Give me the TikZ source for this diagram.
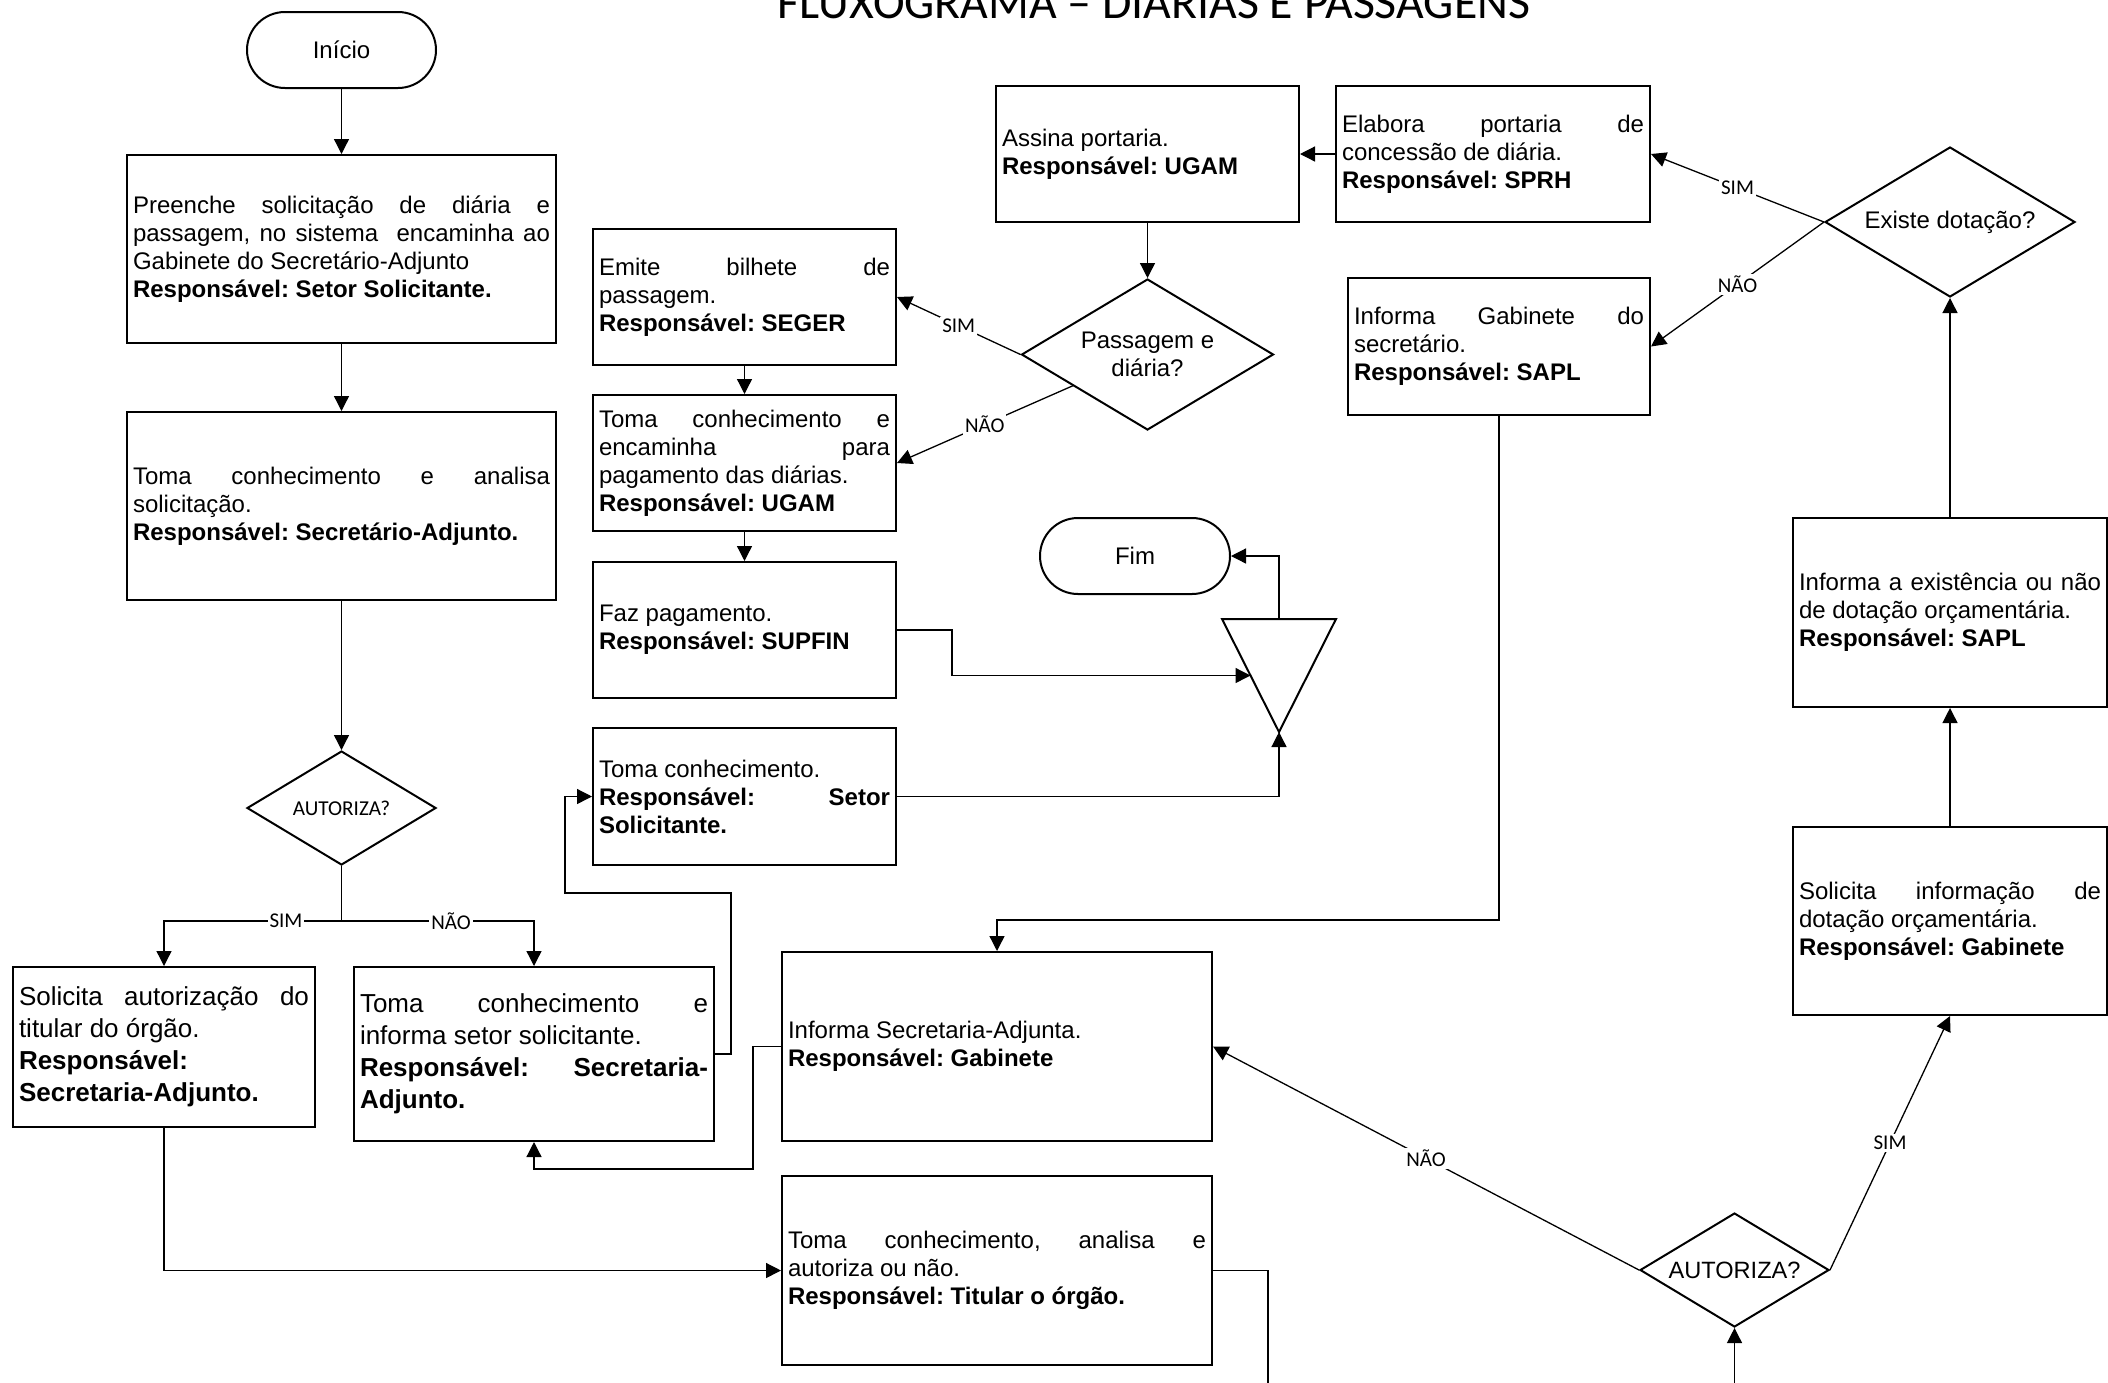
\documentclass[tikz,border=0pt]{standalone}
\usepackage{fontspec}
\setmainfont{Liberation Sans}
\newfontfamily\calib{Carlito}
\usetikzlibrary{arrows.meta,shapes.geometric,calc}
\setlength{\parindent}{0pt}
\frenchspacing
\tolerance=10000
\hbadness=10000
\tikzset{
  box/.style={draw, line width=1pt, inner sep=0pt, align=justify,
    font=\fontsize{12}{14}\selectfont\frenchspacing},
  boxb/.style={draw, line width=1pt, inner sep=0pt, align=justify,
    font=\fontsize{13}{16}\selectfont\frenchspacing},
  term/.style={draw, line width=1pt, rounded corners=19pt, inner sep=0pt,
    minimum height=38pt, font=\fontsize{12}{14}\selectfont},
  dec/.style={draw, diamond, line width=1pt, inner sep=0pt, align=center},
  ln/.style={line width=0.65pt},
  arr/.style={line width=0.65pt, -{Triangle[length=7.5pt,width=7.5pt]}},
  lbl/.style={fill=white, inner sep=1pt, font=\calib\fontsize{10.5}{12}\selectfont},
}
\begin{document}
\begin{tikzpicture}[x=0.5pt,y=-0.5pt]
\useasboundingbox (0,0) rectangle (2108,1382);
\fill[white] (0,0) rectangle (2108,1382);
\clip (0,0) rectangle (2108,1382);

% title
\node[font=\calib\fontsize{23.9}{28}\selectfont, anchor=base, inner sep=0pt] (title) at (1154,18.5) {FLUXOGRAMA – DIÁRIAS E PASSAGENS};

% terminals
\node[term, minimum width=94.5pt] (start) at (341.5,50) {Início};
\node[term, minimum width=95pt] (fim) at (1135,556) {Fim};

% left column
\node[box, minimum width=214.5pt, minimum height=94pt, text width=208.5pt] (b1) at (341.5,249)
 {Preenche solicitação de diária e\linebreak passagem, no sistema \ encaminha ao\linebreak Gabinete do Secretário-Adjunto\par\textbf{Responsável: Setor Solicitante.}};
\node[box, minimum width=214.5pt, minimum height=94pt, text width=208.5pt] (b2) at (341.5,506)
 {Toma conhecimento e analisa\linebreak solicitação.\par\textbf{Responsável: Secretário-Adjunto.}};
\node[dec, minimum width=94.5pt, minimum height=57pt, aspect=1.66, font=\calib\fontsize{10.6}{12}\selectfont] (d1) at (341.5,808) {AUTORIZA?};
\node[boxb, minimum width=151pt, minimum height=80pt, text width=145pt] (b3) at (164,1047)
 {Solicita autorização do\linebreak titular do órgão.\par\textbf{Responsável:\linebreak Secretaria-Adjunto.}};
\node[boxb, minimum width=180pt, minimum height=87pt, text width=174pt] (b4) at (534,1054)
 {Toma conhecimento e\linebreak informa setor solicitante.\par\textbf{Responsável: Secretaria-\linebreak Adjunto.}};

% middle column
\node[box, minimum width=151.5pt, minimum height=68pt, text width=145.5pt] (b5) at (744.5,297)
 {Emite bilhete de\linebreak passagem.\par\textbf{Responsável: SEGER}};
\node[box, minimum width=151.5pt, minimum height=68pt, text width=145.5pt] (b6) at (744.5,463)
 {Toma conhecimento e\linebreak encaminha para\linebreak pagamento das diárias.\par\textbf{Responsável: UGAM}};
\node[box, minimum width=151.5pt, minimum height=68pt, text width=145.5pt] (b7) at (744.5,630)
 {Faz pagamento.\par\textbf{Responsável: SUPFIN}};
\node[box, minimum width=151.5pt, minimum height=68.5pt, text width=145.5pt] (b8) at (744.5,796.5)
 {Toma conhecimento.\par\textbf{Responsável: Setor\linebreak Solicitante.}};

\node[box, minimum width=151.5pt, minimum height=68pt, text width=145.5pt] (b9) at (1147.5,154)
 {Assina portaria.\par\textbf{Responsável: UGAM}};
\node[dec, minimum width=126pt, minimum height=75.5pt, aspect=1.67, font=\fontsize{12}{14}\selectfont] (d2) at (1147.5,354.5) {Passagem e\\diária?};

% merge triangle
\coordinate (tl) at (1222,619);
\coordinate (tr) at (1336,619);
\coordinate (tapex) at (1279,732);
\coordinate (ttop) at (1279,619);
\coordinate (tin) at ($(tl)!0.5!(tapex)$);
\draw[line width=1pt, line join=miter] (tl) -- (tr) -- (tapex) -- cycle;

% right part
\node[box, minimum width=157pt, minimum height=68pt, text width=151pt] (b10) at (1493,154)
 {Elabora portaria de\linebreak concessão de diária.\par\textbf{Responsável: SPRH}};
\node[dec, minimum width=125pt, minimum height=75pt, aspect=1.67, font=\fontsize{12}{14}\selectfont] (d3) at (1950,222) {Existe dotação?};
\node[box, minimum width=151pt, minimum height=68.5pt, text width=145pt] (b11) at (1499,346.5)
 {Informa Gabinete do\linebreak secretário.\par\textbf{Responsável: SAPL}};
\node[box, minimum width=157pt, minimum height=94.5pt, text width=151pt] (b12) at (1950,612.5)
 {Informa a existência ou não\linebreak de dotação orçamentária.\par\textbf{Responsável: SAPL}};
\node[box, minimum width=157pt, minimum height=94pt, text width=151pt] (b13) at (1950,921)
 {Solicita informação de\linebreak dotação orçamentária.\par\textbf{Responsável: Gabinete}};
\node[box, minimum width=215pt, minimum height=94.5pt, text width=209pt] (b14) at (997,1046.5)
 {Informa Secretaria-Adjunta.\par\textbf{Responsável: Gabinete}};
\node[box, minimum width=215pt, minimum height=94.5pt, text width=209pt] (b15) at (997,1270.5)
 {Toma conhecimento, analisa e\linebreak autoriza ou não.\par\textbf{Responsável: Titular o órgão.}};
\node[dec, minimum width=94.5pt, minimum height=57pt, aspect=1.66, font=\fontsize{11.8}{14}\selectfont] (d4) at (1734.5,1270) {AUTORIZA?};

% connectors - left column
\draw[arr] (start.south) -- (b1.north);
\draw[arr] (b1.south) -- (b2.north);
\draw[arr] (b2.south) -- (d1.north);
\coordinate (j1) at (341.5,921);
\draw[ln] (d1.south) -- (j1);
\draw[arr] (j1) -| (b3.north);
\draw[arr] (j1) -| (b4.north);
\node[lbl] (lsim1) at (286,921) {SIM};
\node[lbl] (lnao1) at (451,921) {NÃO};
\draw[arr] (b3.south) |- (b15.west);
\draw[arr] (b4.east) -- (731,1054) -- (731,893) -- (565,893) |- (b8.west);
\draw[arr] (b14.west) -- (753,1046.5) -- (753,1169) -| (b4.south);

% connectors - middle
\draw[arr] (b9.south) -- (d2.north);
\draw[arr] (d2.west) -- node[lbl, pos=0.5] (lsim2) {SIM} (b5.east);
\draw[arr] ($(d2.west)!0.41!(d2.south)$) -- node[lbl, pos=0.5] (lnao2) {NÃO} (b6.east);
\draw[arr] (b5.south) -- (b6.north);
\draw[arr] (b6.south) -- (b7.north);
\draw[arr] (b7.east) -- (952,630) |- (tin);
\draw[arr] (b8.east) -| (tapex);
\draw[arr] (ttop) |- (fim.east);

% connectors - right
\draw[arr] (b10.west) -- (b9.east);
\draw[arr] (d3.west) -- node[lbl, pos=0.5] (lsim3) {SIM} (b10.east);
\draw[arr] (d3.west) -- node[lbl, pos=0.5] (lnao3) {NÃO} (b11.east);
\draw[arr] (b11.south) -- (1499,920) -| (b14.north);
\draw[arr] (b12.north) -- (d3.south);
\draw[arr] (b13.north) -- (b12.south);
\draw[arr] (d4.east) -- node[lbl, pos=0.5] (lsim4) {SIM} (b13.south);
\draw[arr] (d4.west) -- node[lbl, pos=0.5] (lnao4) {NÃO} (b14.east);
\draw[arr] (b15.east) -- (1268,1270.5) -- (1268,1430) -| (d4.south);
\end{tikzpicture}
\end{document}
